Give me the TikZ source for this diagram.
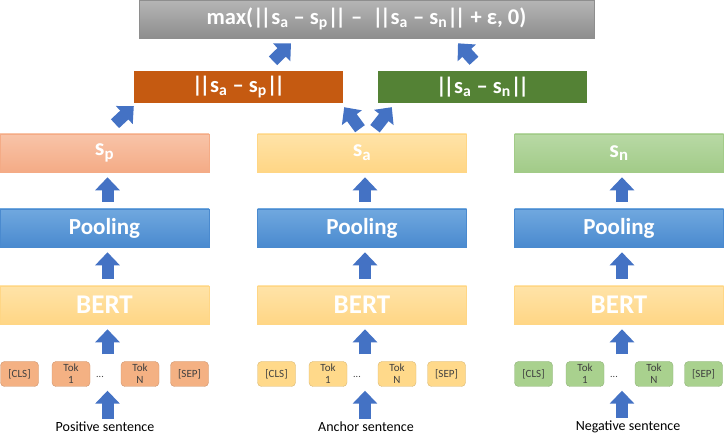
\documentclass[tikz,border=0pt]{standalone}
\usepackage{fontspec}
\setmainfont{Carlito}
\usetikzlibrary{arrows.meta,calc}

\definecolor{arrowblue}{HTML}{4472C4}
\definecolor{salmonA}{HTML}{F8C4A8}
\definecolor{salmonB}{HTML}{F4AB86}
\definecolor{salmonT}{HTML}{F4B183}
\definecolor{yellowA}{HTML}{FFE3A8}
\definecolor{yellowB}{HTML}{FFD685}
\definecolor{yellowT}{HTML}{FFD98A}
\definecolor{greenA}{HTML}{B8D9A5}
\definecolor{greenB}{HTML}{A2CB88}
\definecolor{greenT}{HTML}{A9D18E}
\definecolor{blueA}{HTML}{70A8DF}
\definecolor{blueB}{HTML}{4A8ACF}
\definecolor{grayA}{HTML}{B5B5B5}
\definecolor{grayB}{HTML}{8E8E8E}
\definecolor{diffpcol}{HTML}{C55A11}
\definecolor{diffncol}{HTML}{548235}

\def\dbar{|\kern-3.2pt|}

\tikzset{
  bar/.style={minimum width=209pt, minimum height=38pt, inner sep=0pt, text=white,
    font=\bfseries\fontsize{24}{24}\selectfont, top color=#1A, bottom color=#1B, draw=#1B, line width=0.6pt},
  tok/.style={minimum width=38pt, minimum height=25pt, inner sep=0pt, rounded corners=4pt,
    fill=#1T, draw=#1T!85!black, line width=0.4pt, text=black!75, align=center,
    font=\fontsize{11}{12}\selectfont},
  sent/.style={inner sep=0pt, font=\fontsize{14}{14}\selectfont},
  blockup/.style={line width=12pt, draw=arrowblue, -{Triangle[width=24pt,length=13pt]}},
  gap/.style={shorten <=7pt, shorten >=5pt}
}

\begin{document}
\begin{tikzpicture}[x=1pt,y=-1pt]
  \useasboundingbox (0,0) rectangle (724,446);
  %%%%% TOP %%%%%
  \node[bar=gray, minimum width=455pt, font=\bfseries\fontsize{22.5}{22.5}\selectfont] (loss) at (366.5,19)
    {max(\dbar s\textsubscript{a} – s\textsubscript{p}\dbar{} –~ \dbar s\textsubscript{a} – s\textsubscript{n}\dbar{} + ε, 0)};
  \node[minimum width=209pt, minimum height=32pt, inner sep=0pt, fill=diffpcol, text=white,
    font=\bfseries\fontsize{22.5}{22.5}\selectfont] (diffp) at (238.5,87) {\dbar s\textsubscript{a} – s\textsubscript{p}\dbar};
  \node[minimum width=209pt, minimum height=32pt, inner sep=0pt, fill=diffncol, text=white,
    font=\bfseries\fontsize{22.5}{22.5}\selectfont] (diffn) at (482.5,87) {\dbar s\textsubscript{a} – s\textsubscript{n}\dbar};

  %%%%% EMBEDDINGS %%%%%
  \node[bar=salmon] (sp) at (104.5,153) {s\textsubscript{p}};
  \node[bar=yellow] (sa) at (362,153) {s\textsubscript{a}};
  \node[bar=green] (sn) at (619,153) {s\textsubscript{n}};

  %%%%% POOLING + BERT %%%%%
  \node[bar=blue, font=\bfseries\fontsize{23}{23}\selectfont] (poolp) at (104.5,228) {Pooling};
  \node[bar=blue, font=\bfseries\fontsize{23}{23}\selectfont] (poola) at (362,228) {Pooling};
  \node[bar=blue, font=\bfseries\fontsize{23}{23}\selectfont] (pooln) at (619,228) {Pooling};
  \node[bar=yellow, font=\bfseries\fontsize{27}{27}\selectfont] (bertp) at (104.5,305) {BERT};
  \node[bar=yellow, font=\bfseries\fontsize{27}{27}\selectfont] (berta) at (362,305) {BERT};
  \node[bar=yellow, font=\bfseries\fontsize{27}{27}\selectfont] (bertn) at (619,305) {BERT};

  %%%%% TOKENS %%%%%
  \node[tok=salmon] (clsp) at (19.5,374) {[CLS]};
  \node[tok=salmon] (tok1p) at (71,374) {Tok\\1};
  \node[text=black!75] (dotsp) at (100,377) {...};
  \node[tok=salmon] (tokNp) at (140,374) {Tok\\N};
  \node[tok=salmon] (sepp) at (189.5,374) {[SEP]};

  \node[tok=yellow] (clsa) at (276.5,374) {[CLS]};
  \node[tok=yellow] (tok1a) at (328,374) {Tok\\1};
  \node[text=black!75] (dotsa) at (357,377) {...};
  \node[tok=yellow] (tokNa) at (397,374) {Tok\\N};
  \node[tok=yellow] (sepa) at (446.5,374) {[SEP]};

  \node[tok=green] (clsn) at (533.5,374) {[CLS]};
  \node[tok=green] (tok1n) at (585,374) {Tok\\1};
  \node[text=black!75] (dotsn) at (614,377) {...};
  \node[tok=green] (tokNn) at (654,374) {Tok\\N};
  \node[tok=green] (sepn) at (703.5,374) {[SEP]};

  \node[sent] (pos) at (105,427) {Positive sentence};
  \node[sent] (anc) at (366,427) {Anchor sentence};
  \node[sent] (neg) at (628,427) {Negative sentence};

  %%%%% ARROWS %%%%%
  \draw[blockup, shorten <=3pt, shorten >=4pt] ([xshift=3pt]bertp.south |- pos.north) -- ([xshift=3pt]bertp.south |- clsp.south);
  \draw[blockup, shorten <=3pt, shorten >=4pt] ([xshift=3pt]berta.south |- anc.north) -- ([xshift=3pt]berta.south |- clsa.south);
  \draw[blockup, shorten <=3pt, shorten >=4pt] ([xshift=3pt]bertn.south |- neg.north) -- ([xshift=3pt]bertn.south |- clsn.south);

  \draw[blockup, gap] ([xshift=3pt]bertp.south |- clsp.north) -- ([xshift=3pt]bertp.south);
  \draw[blockup, gap] ([xshift=3pt]berta.south |- clsa.north) -- ([xshift=3pt]berta.south);
  \draw[blockup, gap] ([xshift=3pt]bertn.south |- clsn.north) -- ([xshift=3pt]bertn.south);

  \draw[blockup, gap] ([xshift=3pt]bertp.north) -- ([xshift=3pt]poolp.south);
  \draw[blockup, gap] ([xshift=3pt]berta.north) -- ([xshift=3pt]poola.south);
  \draw[blockup, gap] ([xshift=3pt]bertn.north) -- ([xshift=3pt]pooln.south);

  \draw[blockup, gap] ([xshift=3pt]poolp.north) -- ([xshift=3pt]sp.south);
  \draw[blockup, gap] ([xshift=3pt]poola.north) -- ([xshift=3pt]sa.south);
  \draw[blockup, gap] ([xshift=3pt]pooln.north) -- ([xshift=3pt]sn.south);

  \draw[blockup] ($(sp.north)+(10.5,-10)$) -- ($(diffp.south west)+(0,3)$);
  \draw[blockup] ($(sa.north)+(-2,-5)$) -- ($(diffp.south east)+(1,4)$);
  \draw[blockup] ($(sa.north)+(13,-5)$) -- ($(diffn.south west)+(14,4)$);

  \draw[blockup] ($(diffp.north)+(34.5,-10)$) -- ($(loss.south)+(-75.5,5)$);
  \draw[blockup] ($(diffn.north)+(-8.5,-10)$) -- ($(loss.south)+(91.5,5)$);
\end{tikzpicture}
\end{document}
